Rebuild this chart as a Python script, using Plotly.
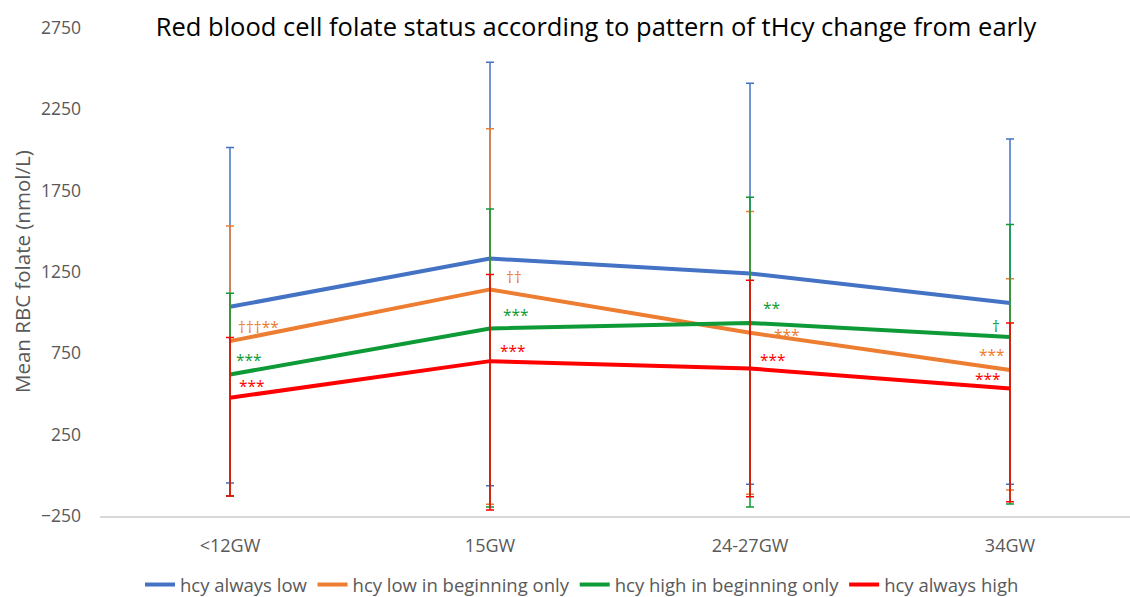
import plotly.graph_objects as go

categories = ["<12GW", "15GW", "24-27GW", "34GW"]

series_names = ["hcy always low", "hcy low in beginning only",
                "hcy high in beginning only", "hcy always high"]

always_low = [1036, 1333, 1241, 1060]
low_begin = [825, 1143, 876, 647]
high_begin = [620, 903, 937, 851]
always_high = [477, 702, 657, 534]

always_low_err_plus = [979, 1206, 1170, 1008]
always_low_err_minus = [1083, 1397, 1296, 1115]
low_begin_err_plus = [708, 988, 746, 561]
low_begin_err_minus = [952, 1321, 993, 737]
high_begin_err_plus = [500, 735, 773, 691]
high_begin_err_minus = [747, 1098, 1132, 1027]
always_high_err_plus = [371, 533, 543, 403]
always_high_err_minus = [604, 915, 788, 696]

y_ticks = [-250, 250, 750, 1250, 1750, 2250, 2750]

# significance labels: (series index, category index, text)
sig_labels = [
    (1, 0, "†††**"), (2, 0, "***"), (3, 0, "***"),
    (1, 1, "††"), (2, 1, "***"), (3, 1, "***"),
    (2, 2, "**"), (1, 2, "***"), (3, 2, "***"),
    (2, 3, "†"), (1, 3, "***"), (3, 3, "***"),
]
# label offsets in pixels (xanchor, xshift, yshift)
sig_offsets = [
    ("left", 6, 14), ("left", 4, 14), ("left", 7, 12),
    ("left", 14, 12), ("left", 11, 13), ("left", 8, 10),
    ("left", 11, 15), ("left", 22, -2), ("left", 8, 8),
    ("center", -14, 11), ("left", -33, 15), ("left", -37, 9),
]

colors = ["#4472C4", "#ED7D31", "#0E9A36", "#FF0000"]
values = [always_low, low_begin, high_begin, always_high]
err_plus = [always_low_err_plus, low_begin_err_plus, high_begin_err_plus, always_high_err_plus]
err_minus = [always_low_err_minus, low_begin_err_minus, high_begin_err_minus, always_high_err_minus]

fig = go.Figure()
for name, vals, ep, em, col in zip(series_names, values, err_plus, err_minus, colors):
    fig.add_trace(go.Scatter(
        x=categories, y=vals, name=name, mode="lines",
        line=dict(color=col, width=4),
        error_y=dict(type="data", symmetric=False, array=ep, arrayminus=em,
                     color=col, thickness=1.5, width=4),
    ))

for (si, ci, txt), (xa, xs, ys) in zip(sig_labels, sig_offsets):
    fig.add_annotation(
        x=categories[ci], y=values[si][ci], text=txt, showarrow=False,
        xanchor=xa, yanchor="middle", xshift=xs, yshift=ys,
        font=dict(family="Open Sans", size=15.5, color=colors[si]),
    )

fig.add_annotation(
    text="Mean RBC folate (nmol/L)", textangle=-90, showarrow=False,
    xref="paper", yref="paper", x=0, y=0.5, xanchor="center", yanchor="middle",
    xshift=-78, yshift=0,
    font=dict(family="Open Sans", size=20.5, color="#595959"),
)

fig.update_layout(
    width=1130, height=597,
    margin=dict(l=100, r=0, t=28, b=81),
    paper_bgcolor="white", plot_bgcolor="white",
    title=dict(text="Red blood cell folate status according to pattern of tHcy change from early",
               x=596 / 1130, xref="container", xanchor="center",
               y=1 - 27 / 597, yref="container", yanchor="middle",
               font=dict(family="Open Sans", size=25.5, color="black")),
    xaxis=dict(type="category", range=[-0.5, 3.4615], showgrid=False,
               showline=True, linecolor="#D9D9D9", linewidth=1.5,
               ticks="", tickfont=dict(family="Open Sans", size=18, color="#595959"),
               ticklabelstandoff=13, zeroline=False),
    yaxis=dict(range=[-250, 2750], tickvals=y_ticks, showgrid=False, zeroline=False,
               showline=False, ticks="",
               tickfont=dict(family="Open Sans", size=17.5, color="#595959"),
               ticklabelstandoff=18),
    legend=dict(orientation="h", x=582 / 1130, xref="container", xanchor="center",
                y=1 - 585 / 597, yref="container", yanchor="middle",
                font=dict(family="Open Sans", size=18.5, color="#595959"),
                itemwidth=30, tracegroupgap=0),
    showlegend=True,
)

fig.write_html("out.html")
